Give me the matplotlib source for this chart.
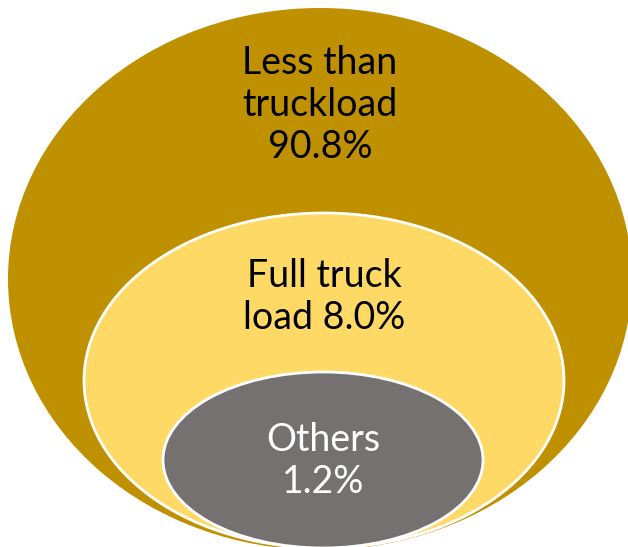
import matplotlib
matplotlib.use("Agg")
import matplotlib.pyplot as plt
from matplotlib.patches import Ellipse

# shipment shares by mode
names = ["Less than\ntruckload", "Full truck\nload", "Others"]
shares = [90.8, 8.0, 1.2]
fills = ["#BF9000", "#FFD966", "#767171"]
text_colors = ["black", "black", "white"]

# nested ellipse layout in pixel space (cx, cy, width, height)
layout = [
    (320, 279, 624, 542),
    (324, 380.5, 480, 335),
    (323, 460, 320, 176),
]
label_y = [105, 297, 461]

fig = plt.figure(figsize=(6.28, 5.47), dpi=100)
ax = fig.add_axes([0, 0, 1, 1])
ax.set_xlim(0, 628)
ax.set_ylim(547, 0)
ax.axis("off")

for i, (cx, cy, w, h) in enumerate(layout):
    edge = "none" if i == 0 else "white"
    ax.add_patch(Ellipse((cx, cy), w, h, facecolor=fills[i],
                         edgecolor=edge, linewidth=2))

for i, name in enumerate(names):
    if i == 1:
        txt = name.replace("\nload", "\nload %.1f%%" % shares[i])
    else:
        txt = "%s\n%.1f%%" % (name, shares[i])
    ax.text(layout[i][0], label_y[i], txt, ha="center", va="center",
            color=text_colors[i], fontsize=27, family="Lato",
            linespacing=1.2)

fig.savefig("out.png", dpi=100)
